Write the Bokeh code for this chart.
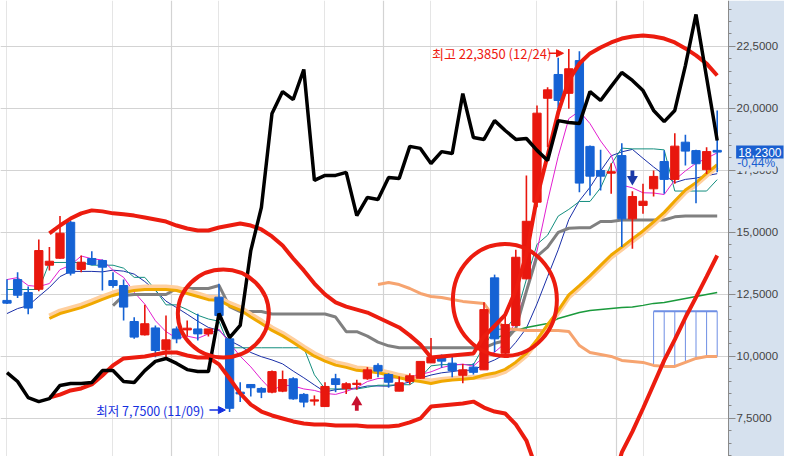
from bokeh.plotting import figure
from bokeh.models import (ColumnDataSource, LinearAxis, FixedTicker, Range1d, Grid,
                          CustomJSTickFormatter, Label, Arrow, NormalHead, BoxAnnotation)
from bokeh.embed import file_html
from bokeh.resources import INLINE

# ---------------- data ----------------
opens = [12.25, 13.09, 12.57, 12.70, 13.67, 13.95, 15.40, 13.50, 13.94, 13.86,
         13.05, 12.85, 11.40, 10.86, 11.14, 10.26, 11.10, 11.06, 11.10, 10.90,
         12.38, 10.70, 8.55, 8.86, 8.70, 8.55, 8.59, 9.09, 8.46, 8.19,
         7.97, 9.09, 8.69, 8.86, 9.09, 9.63, 9.26, 8.59, 8.99, 9.11,
         9.73, 9.99, 9.72, 9.23, 9.56, 9.45, 13.16, 10.12, 11.24, 13.12,
         16.21, 20.40, 21.36, 20.60, 21.92, 18.46, 17.49, 17.38, 18.09, 15.54,
         16.08, 16.75, 17.85, 17.13, 18.63, 18.29, 17.52, 18.30]
highs = [13.10, 13.39, 12.81, 14.71, 14.40, 15.65, 15.45, 14.06, 14.23, 13.90,
         13.39, 13.09, 11.57, 12.07, 11.24, 11.64, 11.20, 11.44, 11.71, 11.10,
         12.92, 10.75, 8.95, 8.88, 8.75, 9.42, 9.42, 9.15, 8.51, 8.42,
         8.95, 9.29, 8.95, 9.05, 9.56, 9.72, 9.31, 9.18, 9.31, 9.79,
         10.73, 10.07, 10.03, 9.69, 9.72, 12.18, 13.29, 11.67, 14.29, 17.29,
         20.11, 20.85, 22.03, 22.385, 22.30, 18.50, 18.32, 17.78, 18.59, 16.65,
         16.95, 17.49, 18.29, 18.99, 18.93, 18.32, 18.43, 19.91]
lows = [12.11, 12.35, 11.69, 12.62, 13.46, 13.93, 13.25, 13.39, 13.67, 12.65,
        12.76, 11.44, 10.70, 10.83, 9.96, 9.90, 10.52, 10.79, 10.63, 10.79,
        11.57, 7.75, 8.15, 8.38, 8.31, 8.51, 8.55, 8.24, 7.94, 8.01,
        7.97, 8.55, 8.48, 8.65, 9.05, 9.15, 8.73, 8.59, 8.86, 9.09,
        9.73, 9.53, 9.15, 8.91, 9.26, 9.45, 10.16, 10.10, 11.20, 13.10,
        16.01, 18.43, 19.98, 19.98, 16.61, 16.48, 16.68, 16.55, 14.40, 14.33,
        15.74, 16.44, 16.55, 16.95, 17.69, 16.17, 17.35, 17.42]
closes = [12.14, 12.46, 11.94, 14.26, 13.83, 14.96, 13.35, 13.79, 13.70, 13.59,
          12.85, 11.98, 10.77, 11.31, 10.23, 10.66, 10.70, 11.13, 10.90, 11.10,
          11.64, 7.90, 8.48, 8.73, 8.55, 9.38, 9.06, 8.28, 8.15, 8.24,
          8.78, 8.86, 8.89, 8.91, 9.45, 9.40, 8.95, 8.93, 9.21, 9.79,
          9.96, 9.80, 9.42, 9.45, 9.35, 11.88, 10.70, 11.28, 13.99, 15.44,
          19.80, 20.74, 20.31, 21.59, 16.98, 17.26, 17.26, 17.44, 15.54, 16.44,
          16.25, 17.25, 17.13, 18.47, 18.27, 17.76, 18.25, 18.23]

black_line = [9.34, 8.98, 8.33, 8.17, 8.29, 8.82, 8.90, 8.90, 8.94, 9.42,
              9.42, 8.98, 8.94, 9.42, 9.79, 9.91, 9.71, 9.46, 9.38, 9.38,
              11.72, 10.75, 11.24, 14.26, 16.00, 19.79, 20.67, 20.35, 21.56, 17.09,
              17.29, 17.29, 17.41, 15.67, 16.40, 16.32, 17.21, 17.17, 18.46, 18.38,
              17.77, 18.25, 18.17, 20.59, 18.82, 18.74, 19.50, 19.10, 18.74, 18.78,
              18.30, 17.89, 19.50, 19.42, 19.38, 20.67, 20.31, 20.88, 21.44, 21.12,
              20.71, 19.91, 19.46, 19.91, 21.72, 23.78, 21.24, 18.70]
ma5 = [13.09, 13.17, 12.85, 12.81, 12.93, 13.49, 13.67, 14.04, 13.93, 13.88,
       13.46, 13.18, 12.58, 12.10, 11.43, 10.99, 10.73, 10.81, 10.72, 10.90,
       11.09, 10.53, 10.00, 9.57, 9.06, 8.61, 8.84, 8.80, 8.68, 8.62,
       8.50, 8.46, 8.58, 8.74, 8.98, 9.10, 9.12, 9.13, 9.19, 9.26,
       9.37, 9.54, 9.64, 9.68, 9.60, 9.98, 10.16, 10.53, 11.44, 12.66,
       14.24, 16.25, 18.06, 19.58, 19.88, 19.38, 18.68, 18.11, 16.90, 16.79,
       16.59, 16.58, 16.52, 17.11, 17.47, 17.78, 17.98, 18.20]
ma10 = [11.72, 11.92, 12.04, 12.41, 12.77, 13.21, 13.42, 13.42, 13.42, 13.40,
        13.47, 13.43, 13.31, 13.01, 12.65, 12.22, 11.96, 11.69, 11.41, 11.16,
        11.04, 10.63, 10.41, 10.15, 9.98, 9.85, 9.69, 9.40, 9.13, 8.84,
        8.56, 8.65, 8.69, 8.71, 8.80, 8.80, 8.79, 8.86, 8.96, 9.12,
        9.24, 9.33, 9.38, 9.44, 9.43, 9.67, 9.85, 10.08, 10.56, 11.13,
        12.11, 13.21, 14.29, 15.51, 16.27, 16.81, 17.47, 18.08, 18.24, 18.34,
        17.98, 17.63, 17.31, 17.00, 17.13, 17.18, 17.28, 17.36]
tenkan = [12.69, 12.69, 12.69, 12.69, 13.78, 13.78, 13.78, 13.78, 13.67, 13.67,
          13.67, 13.55, 13.18, 13.18, 12.68, 12.07, 12.07, 11.88, 11.65, 11.50,
          11.41, 10.34, 10.34, 10.34, 10.34, 10.34, 10.34, 10.34, 10.34, 9.25,
          8.68, 8.68, 8.68, 8.68, 8.75, 8.83, 8.83, 8.85, 8.85, 9.14,
          9.61, 9.66, 9.66, 9.66, 9.66, 10.39, 11.08, 11.10, 11.60, 13.10,
          14.51, 14.88, 15.65, 15.92, 16.24, 16.24, 16.79, 17.74, 18.39, 18.36,
          18.36, 18.36, 18.32, 16.66, 16.66, 16.66, 16.66, 17.12]
kijun_start = 10
kijun = [12.04, 12.45, 12.49, 12.49, 12.49, 12.49, 12.73, 12.73, 12.73, 12.73,
         12.85, 12.00, 11.80, 11.80, 11.80, 11.70, 11.70, 11.70, 11.70, 11.70,
         11.70, 11.58, 10.99, 10.99, 10.81, 10.57, 10.42, 10.34, 10.34, 10.34,
         10.34, 10.34, 10.34, 10.34, 10.34, 10.34, 10.52, 10.62, 11.12, 12.62,
         14.03, 14.40, 14.99, 15.16, 15.18, 15.18, 15.43, 15.43, 15.49, 15.49,
         15.49, 15.49, 15.49, 15.62, 15.65, 15.65, 15.65, 15.65]
band_start = 4
ma20 = [11.52, 11.72, 11.84, 11.96, 12.12, 12.29, 12.45, 12.57, 12.65, 12.69,
        12.69, 12.69, 12.65, 12.53, 12.41, 12.28, 12.26, 12.03, 11.86, 11.58,
        11.32, 11.04, 10.82, 10.55, 10.27, 10.00, 9.80, 9.64, 9.55, 9.43,
        9.39, 9.33, 9.24, 9.13, 9.04, 8.98, 8.90, 8.99, 9.04, 9.07,
        9.11, 9.24, 9.32, 9.47, 9.76, 10.12, 10.67, 11.27, 11.84, 12.47,
        12.85, 13.24, 13.66, 14.08, 14.40, 14.73, 15.05, 15.42, 15.80, 16.26,
        16.70, 17.00, 17.37, 17.72]
ma20_soft = [11.62, 11.82, 11.94, 12.06, 12.22, 12.39, 12.55, 12.67, 12.75, 12.79,
             12.79, 12.79, 12.75, 12.63, 12.51, 12.38, 12.36, 12.13, 11.96, 11.68,
             11.42, 11.14, 10.92, 10.65, 10.37, 10.10, 9.90, 9.74, 9.65, 9.53,
             9.49, 9.43, 9.34, 9.23, 9.14, 9.08, 9.00, 9.06, 9.10, 9.12,
             9.15, 9.16, 9.24, 9.39, 9.68, 10.04, 10.59, 11.19, 11.76, 12.39,
             12.77, 13.16, 13.58, 14.00, 14.32, 14.65, 14.97, 15.34, 15.72, 16.18,
             16.62, 16.92, 17.29, 17.64]
upper_band = [14.95, 15.27, 15.55, 15.76, 15.88, 15.84, 15.76, 15.72, 15.67, 15.59,
              15.51, 15.43, 15.27, 15.15, 15.07, 15.07, 15.19, 15.27, 15.35, 15.27,
              15.11, 14.83, 14.46, 13.94, 13.46, 12.93, 12.49, 12.17, 12.00, 11.88,
              11.76, 11.56, 11.36, 11.16, 10.84, 10.47, 9.95, 9.99, 10.03, 10.07,
              10.11, 10.80, 11.22, 11.67, 12.66, 14.10, 16.40, 18.09, 19.83, 21.12,
              21.80, 22.21, 22.45, 22.65, 22.81, 22.89, 22.93, 22.89, 22.81, 22.65,
              22.41, 22.13, 21.80, 21.32]
lower_band = [8.33, 8.45, 8.62, 8.70, 8.86, 9.22, 9.63, 9.91, 9.95, 9.99,
              10.07, 10.15, 10.15, 10.03, 9.95, 9.95, 9.67, 9.10, 8.50, 8.05,
              7.77, 7.61, 7.49, 7.37, 7.29, 7.25, 7.25, 7.21, 7.21, 7.21,
              7.17, 7.17, 7.17, 7.21, 7.33, 7.49, 7.97, 8.01, 8.05, 8.09,
              8.17, 7.93, 7.77, 7.69, 7.25, 6.60, 5.39, 4.18, 3.37, 2.97,
              2.97, 3.17, 3.78, 4.59, 6.12, 6.96, 7.89, 8.86, 9.83, 10.67,
              11.56, 12.37, 13.21, 14.06]
spanb_start = 35
span_b = [12.89, 12.97, 12.89, 12.73, 12.53, 12.41, 12.37, 12.29, 12.21, 12.17,
          12.13, 11.52, 11.12, 11.08, 11.04, 11.04, 11.04, 11.04, 11.00, 10.43,
          10.15, 10.07, 9.99, 9.83, 9.79, 9.75, 9.63, 9.59, 9.59, 9.75,
          9.91, 9.99, 9.99]
ma60_start = 46
ma60 = [10.71, 10.88, 11.04, 11.16, 11.24, 11.32, 11.52, 11.64, 11.76, 11.84,
        11.88, 11.92, 11.96, 11.98, 12.05, 12.13, 12.17, 12.25, 12.33, 12.41,
        12.49, 12.57]
cloud_start = 61
cloud_top = 11.81

y_ticks = [7.5, 10.0, 12.5, 15.0, 17.5, 20.0, 22.5]
y_minor = [6.0, 6.5, 7.0, 8.0, 8.5, 9.0, 9.5, 10.5, 11.0, 11.5, 12.0, 13.0, 13.5, 14.0,
           14.5, 15.5, 16.0, 16.5, 17.0, 18.0, 18.5, 19.0, 19.5, 20.5, 21.0, 21.5,
           22.0, 23.0, 23.5, 24.0]
month_breaks = [15.5, 35.5, 57.5]

hi_idx, hi_val, hi_text = 53, 22.385, "최고 22,3850 (12/24)"
lo_idx, lo_val, lo_text = 21, 7.75, "최저 7,7500 (11/09)"
last_price, last_change = "18,2300", "-0,44%"
circle_x = [20.41, 46.97]
circle_y = [11.72, 12.27]
circle_w = [91, 104]
circle_h = [88, 112]
up_arrow = (33, 8.15)
down_arrow = (59, 17.14)

# ---------------- figure ----------------
RED = "#e8170e"
BLUE = "#1562d4"
PANEL = "#d6e1ee"
AXIS_AT = 68.066          # index position of the price-axis line
n = len(closes)
idx = list(range(n))
col = [RED if c >= o else BLUE for o, c in zip(opens, closes)]
src = ColumnDataSource(dict(
    x=idx, h=highs, l=lows,
    top=[max(o, c) for o, c in zip(opens, closes)],
    bot=[min(o, c) for o, c in zip(opens, closes)],
    col=col))

p = figure(frame_width=784, frame_height=456,
           x_range=Range1d(-0.613, 73.349), y_range=Range1d(5.956, 24.343),
           output_backend="svg", toolbar_location=None,
           x_axis_location=None, y_axis_location=None,
           min_border_left=0, min_border_right=0, min_border_top=0, min_border_bottom=0)
p.outline_line_color = None
p.background_fill_color = "white"
p.border_fill_color = PANEL

p.add_layout(Grid(dimension=1, ticker=FixedTicker(ticks=y_ticks),
                  grid_line_color="#d3d3d3", grid_line_width=1.2))
p.add_layout(Grid(dimension=0, ticker=FixedTicker(ticks=month_breaks),
                  grid_line_color="#d3d3d3", grid_line_width=1.2))
# price-scale panel background
p.add_layout(BoxAnnotation(left=AXIS_AT, fill_color=PANEL, fill_alpha=1.0,
                           line_color=None, level="underlay"))

ax = LinearAxis(ticker=FixedTicker(ticks=y_ticks, minor_ticks=y_minor),
                fixed_location=AXIS_AT,
                formatter=CustomJSTickFormatter(code="return tick.toFixed(4).replace('.', ',');"),
                axis_line_color="#8a8a8a", major_tick_line_color="#8a8a8a",
                minor_tick_line_color="#8a8a8a",
                major_tick_in=0, major_tick_out=7, minor_tick_in=0, minor_tick_out=3,
                major_label_text_font="Liberation Sans", major_label_text_font_size="11.5px",
                major_label_text_color="#444444", major_label_standoff=1)
p.add_layout(ax, "right")

# cloud hatch
cx = list(range(cloud_start, n))
cb = span_b[cloud_start - spanb_start:]
p.segment(x0=cx, y0=[cloud_top] * len(cx), x1=cx, y1=cb, line_color="#6f8fe4", line_width=1)
p.line(cx, [cloud_top] * len(cx), line_color="#6f8fe4", line_width=2)

# thin averages
p.line(idx, ma10, line_color="#1a2fa8", line_width=1)
p.line(idx, tenkan, line_color="#138e7e", line_width=1)
p.line(idx, ma5, line_color="#e21fd0", line_width=1)
p.line(list(range(ma60_start, ma60_start + len(ma60))), ma60, line_color="#1a9a3c", line_width=1.5)

# thick averages
p.line(list(range(kijun_start, kijun_start + len(kijun))), kijun, line_color="#808080", line_width=3)
p.line(list(range(spanb_start, spanb_start + len(span_b))), span_b, line_color="#f6a470", line_width=3)
bx = list(range(band_start, band_start + len(ma20)))
p.line(bx, ma20_soft, line_color="#ffcf9e", line_width=5)
p.line(bx, ma20, line_color="#f0a800", line_width=3)

# candles
p.segment(x0="x", y0="h", x1="x", y1="l", line_color="col", line_width=1.6, source=src)
p.vbar(x="x", top="top", bottom="bot", width=0.78, fill_color="col", line_color="col",
       line_width=1, source=src)

# bands
p.line(bx, upper_band, line_color="#ec1c0f", line_width=4)
p.line(bx, lower_band, line_color="#ec1c0f", line_width=4)

# black indicator
p.line(idx, black_line, line_color="black", line_width=3.5)

# highlight circles
p.ellipse(x=circle_x, y=circle_y, width=circle_w, height=circle_h,
          width_units="screen", height_units="screen",
          fill_color=None, line_color="#ec1c0f", line_width=4)

# signal arrows
p.vbar(x=[up_arrow[0]], top=[up_arrow[1] - 0.05], bottom=[up_arrow[1] - 0.35], width=0.36,
       fill_color="#c8102e", line_color=None)
p.scatter(x=[up_arrow[0]], y=[up_arrow[1]], marker="triangle", size=11,
          fill_color="#c8102e", line_color=None)
p.vbar(x=[down_arrow[0]], top=[down_arrow[1] + 0.35], bottom=[down_arrow[1] + 0.05], width=0.36,
       fill_color="#1a3aa8", line_color=None)
p.scatter(x=[down_arrow[0]], y=[down_arrow[1]], marker="inverted_triangle", size=11,
          fill_color="#1a3aa8", line_color=None)

# high / low notes
hi_y = hi_val - 0.17
p.add_layout(Label(x=hi_idx - 1.65, y=hi_y, text=hi_text, text_align="right",
                   text_baseline="middle", text_color="#ee1a10",
                   text_font="Noto Sans CJK KR", text_font_size="13px"))
p.add_layout(Arrow(x_start=hi_idx - 1.9, y_start=hi_y, x_end=hi_idx - 0.5, y_end=hi_y,
                   line_color="#ee1a10", line_width=1.5,
                   end=NormalHead(size=7, fill_color="#ee1a10", line_color="#ee1a10")))
lo_y = lo_val + 0.08
p.add_layout(Label(x=lo_idx - 2.4, y=lo_y, text=lo_text, text_align="right",
                   text_baseline="middle", text_color="#1530e0",
                   text_font="Noto Sans CJK KR", text_font_size="12.5px"))
p.add_layout(Arrow(x_start=lo_idx - 1.9, y_start=lo_y, x_end=lo_idx - 0.4, y_end=lo_y,
                   line_color="#1530e0", line_width=1.5,
                   end=NormalHead(size=7, fill_color="#1530e0", line_color="#1530e0")))

# last price tag on the price scale
p.add_layout(Label(x=AXIS_AT + 0.72, y=closes[-1] - 0.45, text=last_change, text_align="left",
                   text_baseline="middle", text_color="#1a5fd0",
                   background_fill_color=PANEL, padding=1,
                   text_font="Liberation Sans", text_font_size="12px"))
p.add_layout(Label(x=AXIS_AT + 0.72, y=closes[-1], text=last_price, text_align="left",
                   text_baseline="middle", text_color="white",
                   background_fill_color="#1a5fd0", padding=2,
                   text_font="Liberation Sans", text_font_size="12px"))

open("out.html", "w").write(file_html(p, INLINE))
